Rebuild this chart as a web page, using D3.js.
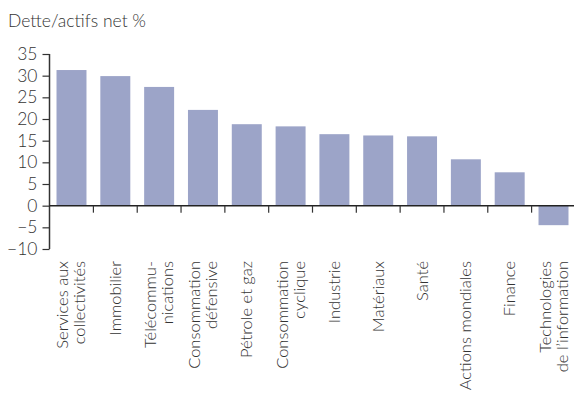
<!DOCTYPE html>
<html><head><meta charset="utf-8">
<script src="https://cdn.jsdelivr.net/npm/d3@7"></script>
<style>
body{margin:0;background:#fff;}
text{font-family:Lato,"Open Sans",sans-serif;fill:#333;}
</style></head>
<body><svg id="c" width="574" height="403"></svg>
<script>
const categories = [
  ["Services aux","collectivités"],
  ["Immobilier"],
  ["Télécommu-","nications"],
  ["Consommation","défensive"],
  ["Pétrole et gaz"],
  ["Consommation","cyclique"],
  ["Industrie"],
  ["Matériaux"],
  ["Santé"],
  ["Actions mondiales"],
  ["Finance"],
  ["Technologies","de l’information"]
];
const values = [31.3, 29.9, 27.4, 22.1, 18.8, 18.3, 16.5, 16.2, 16.0, 10.7, 7.7, -4.5];
const yTicks = [35, 30, 25, 20, 15, 10, 5, 0, -5, -10];
const yTitle = "Dette/actifs net %";

const svg = d3.select("#c");
const ids = categories.map((c,i)=>i);
const x = d3.scaleBand().domain(ids).range([49.5, 575.5]).paddingInner(0.316).paddingOuter(0.16);
const y = d3.scaleLinear().domain([-10, 35]).range([249, 54]);
const step = x.step();

svg.append("text").attr("x", 8).attr("y", 27).attr("font-size", 17.5).attr("font-weight", 300).text(yTitle);

svg.selectAll("rect.bar").data(values).join("rect").attr("class","bar")
  .attr("x", (d,i)=>x(i)).attr("width", x.bandwidth())
  .attr("y", d=>y(Math.max(0,d))).attr("height", d=>Math.abs(y(d)-y(0)))
  .attr("fill", "#9ca4c8");

// y axis
const yAxis = svg.append("g").attr("transform","translate(49.5,0)")
  .call(d3.axisLeft(y).tickValues(yTicks).tickSize(7).tickPadding(5).tickFormat(d3.format("d")));
yAxis.select(".domain").attr("stroke","#333").attr("stroke-width",1.5).attr("d","M0,54V249");
yAxis.selectAll(".tick line").attr("stroke","#333").attr("stroke-width",1.2);
yAxis.selectAll(".tick text").attr("font-size",17.5).attr("font-weight",300).attr("fill","#333").style("font-family","Lato,sans-serif");

// zero line with ticks between bands
svg.append("line").attr("x1",49.5).attr("x2",574).attr("y1",y(0)).attr("y2",y(0)).attr("stroke","#222").attr("stroke-width",1.5);
svg.selectAll("line.xt").data(ids.slice(1)).join("line").attr("class","xt")
  .attr("x1", i=>x(i)-x.paddingInner()*step/2).attr("x2", i=>x(i)-x.paddingInner()*step/2)
  .attr("y1", y(0)).attr("y2", y(0)+7).attr("stroke","#333").attr("stroke-width",1.2);

// x labels
const lab = svg.selectAll("g.xl").data(categories).join("g").attr("class","xl")
  .attr("transform",(d,i)=>`translate(${x(i)+x.bandwidth()/2},261) rotate(-90)`);
lab.each(function(d){
  const g = d3.select(this);
  const n = d.length, lh = 17;
  d.forEach((t,k)=>{
    g.append("text").attr("text-anchor","end").attr("font-size",16.5).attr("font-weight",300)
      .attr("x",0).attr("y", (k-(n-1)/2)*lh + 5.5).text(t);
  });
});
</script></body></html>
